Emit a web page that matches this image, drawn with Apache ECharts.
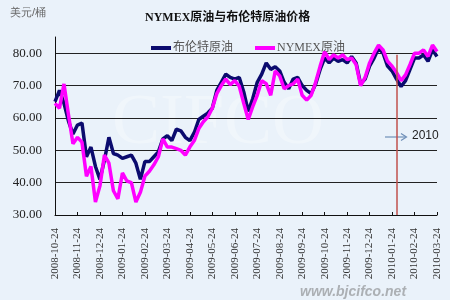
<!DOCTYPE html>
<html><head><meta charset="utf-8">
<script src="https://cdn.jsdelivr.net/npm/echarts@6/dist/echarts.min.js"></script>
<style>html,body{margin:0;padding:0;background:#eaf2fa}#c{width:450px;height:300px}</style>
</head><body><div id="c"></div>
<script>
// Tick labels (one per month) on the category axis
const tickLabels = ['2008-10-24','2008-11-24','2008-12-24','2009-01-24','2009-02-24','2009-03-24',
  '2009-04-24','2009-05-24','2009-06-24','2009-07-24','2009-08-24','2009-09-24','2009-10-24',
  '2009-11-24','2009-12-24','2010-01-24','2010-02-24','2010-03-24'];
const POINTS_PER_TICK = 5;

// Brent crude (USD/bbl), sampled 5 times per month interval
const brent = [65,68.5,64.5,59,55,57.8,58.4,48,51,45,
  41,47,54,49,48.5,47.5,48,48.5,46,41,
  46.5,46.5,48,49.5,53.5,54.5,53,56.5,56,54,
  53,55.5,59.5,60.5,61.5,63,68.5,71,73.5,72.5,
  72,72.5,68,62,66,71,73.5,77,75,75.8,
  74.5,71,69,72,72.5,70,68.5,67.5,70.5,75,
  78.5,77,78.5,77.5,78,77,79,77,70.5,72,
  76,78.5,81.5,80,76,74.5,72,69.7,71.5,75,
  78.5,78.5,79.5,77.5,81,79];
// NYMEX crude (USD/bbl)
const nymex = [64.5,63,70.5,61,52,54,52.5,42,45,34,
  39,48.5,46,37.5,35,43,40.5,40,34,37,
  42,43.5,45.5,48,53.5,51,51,50.5,50,48.5,
  51,53,56.7,58.8,60.3,63,67.5,70,72,70.3,
  71.5,69.8,64.5,59.5,63.5,67,71.5,70.6,67,74.5,
  73,69,70,70.5,72,67,65.5,67,71,76,
  80.5,78,79.5,78.5,79.5,78,78.5,76.5,70,72.5,
  77,80,82.5,81,77.5,76,74,71.5,73.3,76.5,
  80,80,81,79,82.5,80.5];

const seriesNames = ['布伦特原油', 'NYMEX原油'];
const markerCategory = '2010-01-24#1';

const categories = [];
tickLabels.forEach((t, m) => {
  if (m < tickLabels.length - 1) {
    for (let s = 0; s < POINTS_PER_TICK; s++) categories.push(s === 0 ? t : t + '#' + s);
  } else categories.push(t);
});

const serif = '"Liberation Serif","Noto Sans CJK SC",serif';
const chart = echarts.init(document.getElementById('c'), null, {renderer: 'canvas'});
chart.setOption({
  backgroundColor: '#eaf2fa',
  animation: false,
  grid: {left: 55, right: 13, top: 37, bottom: 85, containLabel: false},
  title: {
    text: 'NYMEX原油与布伦特原油价格', left: 140, top: 7,
    textStyle: {fontSize: 12, fontWeight: 'bold', color: '#111', fontFamily: serif}
  },
  legend: {
    left: 146, top: 37, itemWidth: 20, itemHeight: 4, itemGap: 22, icon: 'rect',
    textStyle: {fontSize: 12, color: '#555', fontFamily: serif, padding: [0,0,0,-3]},
    data: seriesNames
  },
  xAxis: {
    type: 'category', data: categories, boundaryGap: false,
    axisLine: {lineStyle: {color: '#111', width: 1}},
    axisTick: {inside: true, length: 3, interval: POINTS_PER_TICK - 1, lineStyle: {color: '#111'}},
    axisLabel: {interval: POINTS_PER_TICK - 1, rotate: 90, margin: 13, fontSize: 11,
      color: '#333', fontFamily: serif},
    splitLine: {show: false}
  },
  yAxis: {
    type: 'value', min: 30, max: 85, interval: 10,
    axisLine: {show: true, lineStyle: {color: '#111'}},
    axisTick: {show: false},
    axisLabel: {formatter: v => v.toFixed(2), showMaxLabel: false, margin: 13, fontSize: 13,
      color: '#222', fontFamily: serif},
    splitLine: {show: true, showMaxLine: false, lineStyle: {color: '#222', width: 1}}
  },
  series: [
    {name: seriesNames[0], type: 'line', data: brent, showSymbol: false, symbol: 'none',
     lineStyle: {color: '#0b0b6e', width: 3.5}, itemStyle: {color: '#0b0b6e'},
     markLine: {silent: true, symbol: 'none', label: {show: false},
       lineStyle: {color: '#c0504d', width: 1.5, type: 'solid'},
       data: [[{xAxis: markerCategory, yAxis: 30}, {xAxis: markerCategory, yAxis: 79.5}]]}},
    {name: seriesNames[1], type: 'line', data: nymex, showSymbol: false, symbol: 'none',
     lineStyle: {color: '#ff00ff', width: 3.5}, itemStyle: {color: '#ff00ff'}}
  ],
  graphic: [
    {type: 'text', left: 10, top: 7, style: {text: '美元/桶', fontSize: 11, fill: '#666',
      font: '11px "Noto Sans CJK SC"'}},
    {type: 'text', left: 112, top: 88, z: 0, style: {text: 'CIFCO',
      font: '72px "Liberation Serif"', fill: 'rgba(255,255,255,0.3)'}},
    {type: 'line', shape: {x1: 385, y1: 137, x2: 406, y2: 137}, style: {stroke: '#6f8fb8', lineWidth: 1.2}},
    {type: 'polyline', shape: {points: [[401, 133.5], [406.5, 137], [401, 140.5]]},
      style: {stroke: '#6f8fb8', lineWidth: 1.2, fill: null}},
    {type: 'text', left: 412, top: 130, style: {text: '2010', font: '12px "Liberation Sans"', fill: '#222'}},
    {type: 'text', left: 300, top: 285, style: {text: 'www.bjcifco.net',
      font: 'italic bold 14px "Liberation Sans"', fill: 'rgba(110,110,110,0.5)'}}
  ]
});
</script></body></html>
